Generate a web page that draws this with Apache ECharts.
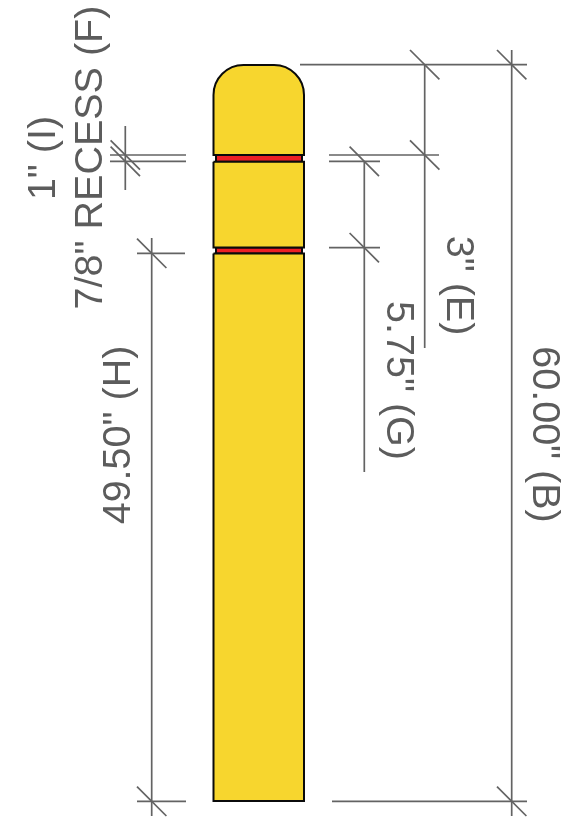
<!DOCTYPE html>
<html><head><meta charset="utf-8">
<style>html,body{margin:0;padding:0;background:#fff}#c{width:576px;height:817px}</style>
<script src="https://cdn.jsdelivr.net/npm/echarts@6/dist/echarts.min.js"></script>
</head><body><div id="c"></div>
<script>
// Drawing, in drawing units on a hidden 576 x 817 sheet.
// [left, top, right, bottom, top corner radius]
const postSections = [
  [213.5, 65, 304, 155, 30],
  [213.5, 161.7, 304, 247.5, 0],
  [213.5, 253.5, 304, 801, 0]
];
const recessBands = [
  [216, 155, 302, 161.7, 0],
  [216, 247.5, 302, 253.5, 0]
];
// Extension and dimension lines: [x1, y1, x2, y2]
const dimensionLines = [
  [300, 64.7, 527, 64.7],
  [329, 155, 439, 155],
  [329, 161.4, 380, 161.4],
  [329, 247.7, 380, 247.7],
  [332, 801.3, 527, 801.3],
  [511.7, 50, 511.7, 816],
  [424.7, 64.7, 424.7, 348],
  [364.3, 161.4, 364.3, 472],
  [137, 253.3, 185, 253.3],
  [137, 801.3, 186, 801.3],
  [151.7, 238, 151.7, 816],
  [110, 155, 186, 155],
  [110, 161.4, 186, 161.4],
  [125.3, 126, 125.3, 190]
];
// Slash ticks where dimension lines cross: [x, y]
const slashTicks = [
  [511.7, 64.7], [424.7, 64.7], [424.7, 155], [364.3, 161.4], [364.3, 247.7],
  [511.7, 801.3], [151.7, 801.3], [151.7, 253.3], [125.3, 155], [125.3, 161.4]
];
const slashHalf = 14.7;
// Labels: [x, y, direction (1 reads upward, -1 reads downward)]
const labelTexts = ['1" (I)', '7/8" RECESS (F)', '49.50" (H)', '3" (E)', '5.75" (G)', '60.00" (B)'];
const labelPlaces = [
  [44.5, 158, 1], [91.5, 157.5, 1], [119, 435, 1],
  [457.5, 285.5, -1], [397.5, 380.5, -1], [544, 434.5, -1]
];

const boxItem = (fill) => (p, api) => {
  const a = api.coord([api.value(0), api.value(1)]);
  const b = api.coord([api.value(2), api.value(3)]);
  const r = api.value(4);
  return { type: 'rect',
    shape: { x: a[0], y: a[1], width: b[0] - a[0], height: b[1] - a[1], r: [r, r, 0, 0] },
    style: { fill: fill, stroke: '#0b0b0b', lineWidth: 2 } };
};
const lineItem = (p, api) => {
  const a = api.coord([api.value(0), api.value(1)]);
  const b = api.coord([api.value(2), api.value(3)]);
  return { type: 'line', shape: { x1: a[0], y1: a[1], x2: b[0], y2: b[1] },
    style: { stroke: '#636363', lineWidth: 1.7, fill: null } };
};
const slashItem = (p, api) => {
  const x = api.value(0), y = api.value(1);
  const a = api.coord([x - slashHalf, y - slashHalf]);
  const b = api.coord([x + slashHalf, y + slashHalf]);
  return { type: 'line', shape: { x1: a[0], y1: a[1], x2: b[0], y2: b[1] },
    style: { stroke: '#636363', lineWidth: 1.7, fill: null } };
};
const labelItem = (p, api) => {
  const c = api.coord([api.value(0), api.value(1)]);
  return { type: 'text', x: c[0], y: c[1], rotation: api.value(2) * Math.PI / 2,
    style: { text: labelTexts[p.dataIndex], fill: '#5c5c5c', align: 'center', verticalAlign: 'middle',
      font: '39.5px "Liberation Sans", Arial, sans-serif' } };
};
const cust = (data, renderItem, z) => ({ type: 'custom', data, renderItem, z, silent: true, animation: false, clip: false,
  encode: { x: 0, y: 1 } });

const chart = echarts.init(document.getElementById('c'), null, { renderer: 'canvas' });
chart.setOption({
  animation: false,
  backgroundColor: '#ffffff',
  grid: { left: 0, right: 0, top: 0, bottom: 0 },
  xAxis: { type: 'value', min: 0, max: 576, show: false },
  yAxis: { type: 'value', min: 0, max: 817, inverse: true, show: false },
  series: [
    cust(dimensionLines, lineItem, 1),
    cust(slashTicks, slashItem, 1),
    cust(recessBands, boxItem('#ED2024'), 2),
    cust(postSections, boxItem('#F7D62E'), 3),
    cust(labelPlaces, labelItem, 4)
  ]
});
</script></body></html>
